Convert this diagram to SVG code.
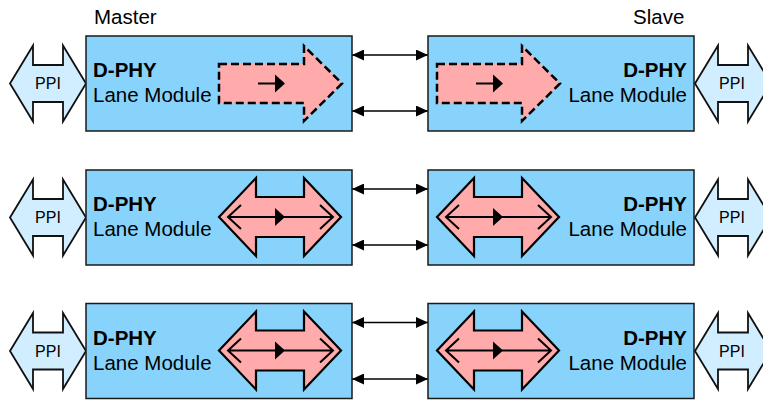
<svg xmlns="http://www.w3.org/2000/svg" width="763" height="400" viewBox="0 0 763 400">
<style>
.box{fill:#87d3fb;stroke:#1a1a1a;stroke-width:1.5}
.ppi{fill:#d0eeff;stroke:#111;stroke-width:1.8;stroke-linejoin:miter}
.pink{fill:#ffaaab;stroke:#000;stroke-width:2.2;stroke-linejoin:miter}
.dash{fill:#ffaaab;stroke:#000;stroke-width:2.5;stroke-dasharray:8 4}
.inner{fill:none;stroke:#000;stroke-width:2}
.head{fill:#000}
.t{font-family:"Liberation Sans",Arial,sans-serif;fill:#000}
.b{font-size:20.5px;font-weight:bold}
.n{font-size:20.5px}
.p{font-size:16px;text-anchor:middle}
.conn{stroke:#000;stroke-width:1.5;fill:none;marker-start:url(#ah);marker-end:url(#ah)}
</style>
<defs>
<marker id="ah" viewBox="0 0 12 11" refX="12" refY="5.5" markerWidth="12" markerHeight="11" markerUnits="userSpaceOnUse" orient="auto-start-reverse">
<path d="M0,0 L12,5.5 L0,11 Z" fill="#000"/>
</marker>
<path id="ppiShape" class="ppi" d="M0,0 L23,-38 L23,-18.5 L53,-18.5 L53,-38 L76,0 L53,38 L53,18.5 L23,18.5 L23,38 Z"/>
<g id="dbl">
<path class="pink" d="M0,0 L37,-39 L37,-20 L85,-20 L85,-39 L122,0 L85,39 L85,20 L37,20 L37,39 Z"/>
<path class="inner" d="M9,0 H114 M22,-12 L9,0 L22,12 M101,-12 L114,0 L101,12"/>
<path class="head" d="M56,-9 L66,0 L56,9 Z"/>
</g>
<g id="sgl">
<path class="dash" d="M0,-19.5 L85,-19.5 L85,-37.5 L123,0 L85,37.5 L85,19.5 L0,19.5 Z"/>
<path class="inner" d="M39,0 H60"/>
<path class="head" d="M56,-9 L66,0 L56,9 Z"/>
</g>
</defs>
<text class="t n" x="94" y="24">Master</text>
<text class="t n" x="633" y="24">Slave</text>
<g id="connectors">
<line class="conn" x1="352" y1="55" x2="428" y2="55"/>
<line class="conn" x1="352" y1="111" x2="428" y2="111"/>
<line class="conn" x1="352" y1="189" x2="428" y2="189"/>
<line class="conn" x1="352" y1="245" x2="428" y2="245"/>
<line class="conn" x1="352" y1="322.5" x2="428" y2="322.5"/>
<line class="conn" x1="352" y1="379" x2="428" y2="379"/>
</g>
<!-- Row 1 -->
<g id="ppi-master-1"><use href="#ppiShape" x="10" y="83.5"/><text class="t p" x="48" y="89">PPI</text></g>
<g id="lane-master-1">
<rect class="box" x="86" y="36" width="266" height="95"/>
<text class="t b" x="93" y="77">D-PHY</text>
<text class="t n" x="93" y="102">Lane Module</text>
<use href="#sgl" x="219" y="83.5"/>
</g>
<g id="lane-slave-1">
<rect class="box" x="428" y="36" width="266" height="95"/>
<text class="t b" x="687" y="77" text-anchor="end">D-PHY</text>
<text class="t n" x="687" y="102" text-anchor="end">Lane Module</text>
<use href="#sgl" x="437" y="83.5"/>
</g>
<g id="ppi-slave-1"><use href="#ppiShape" x="695" y="83.5"/><text class="t p" x="732" y="89">PPI</text></g>
<!-- Row 2 -->
<g id="ppi-master-2"><use href="#ppiShape" x="10" y="217.5"/><text class="t p" x="48" y="223">PPI</text></g>
<g id="lane-master-2">
<rect class="box" x="86" y="170" width="266" height="95"/>
<text class="t b" x="93" y="211">D-PHY</text>
<text class="t n" x="93" y="236">Lane Module</text>
<use href="#dbl" x="219" y="217"/>
</g>
<g id="lane-slave-2">
<rect class="box" x="428" y="170" width="266" height="95"/>
<text class="t b" x="687" y="211" text-anchor="end">D-PHY</text>
<text class="t n" x="687" y="236" text-anchor="end">Lane Module</text>
<use href="#dbl" x="437" y="217"/>
</g>
<g id="ppi-slave-2"><use href="#ppiShape" x="695" y="217.5"/><text class="t p" x="732" y="223">PPI</text></g>
<!-- Row 3 -->
<g id="ppi-master-3"><use href="#ppiShape" x="10" y="351"/><text class="t p" x="48" y="356.5">PPI</text></g>
<g id="lane-master-3">
<rect class="box" x="86" y="303.5" width="266" height="95"/>
<text class="t b" x="93" y="344.5">D-PHY</text>
<text class="t n" x="93" y="369.5">Lane Module</text>
<use href="#dbl" x="219" y="350.5"/>
</g>
<g id="lane-slave-3">
<rect class="box" x="428" y="303.5" width="266" height="95"/>
<text class="t b" x="687" y="344.5" text-anchor="end">D-PHY</text>
<text class="t n" x="687" y="369.5" text-anchor="end">Lane Module</text>
<use href="#dbl" x="437" y="350.5"/>
</g>
<g id="ppi-slave-3"><use href="#ppiShape" x="695" y="351"/><text class="t p" x="732" y="356.5">PPI</text></g>
</svg>
